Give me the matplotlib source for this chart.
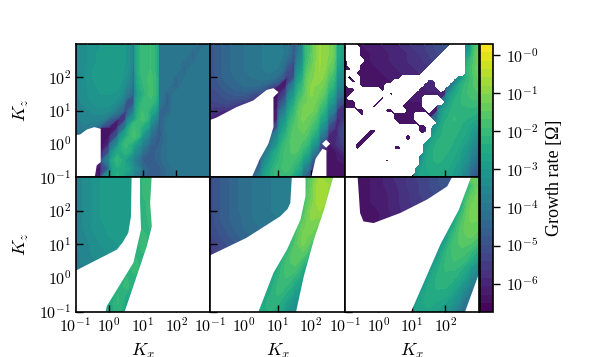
import matplotlib
matplotlib.use('Agg')
import matplotlib.pyplot as plt
from matplotlib.colors import LogNorm
import numpy as np

plt.rcParams['font.family'] = ['Liberation Serif', 'DejaVu Serif']
plt.rcParams['mathtext.fontset'] = 'cm'

# log10(growth rate), 17 columns (log Kx -1..3),
# rows from Kz = 10^3 (top) down to Kz = 10^-1
P1 = [
    [-3.5,-3.3,-3.1,-3.0,-2.9,-2.9,-3.0,-4.6,-2.0,-1.9,-3.9,-3.9,-3.9,-3.9,-3.9,-4.3,-4.1],
    [-3.5,-3.3,-3.1,-2.9,-2.8,-2.8,-3.0,-4.6,-2.0,-1.9,-3.9,-3.9,-3.9,-3.9,-4.5,-4.0,-3.9],
    [-3.5,-3.3,-3.1,-2.9,-2.8,-2.8,-3.0,-4.7,-2.0,-1.9,-3.9,-3.9,-3.9,-4.2,-4.3,-3.9,-3.9],
    [-3.5,-3.3,-3.0,-2.9,-2.8,-2.8,-3.1,-4.8,-2.0,-1.9,-3.9,-3.9,-3.9,-4.6,-3.9,-3.9,-3.9],
    [-3.5,-3.3,-3.0,-2.9,-2.8,-2.8,-3.2,-5.0,-2.1,-1.8,-3.9,-3.9,-4.4,-4.1,-3.9,-3.9,-3.9],
    [-3.5,-3.3,-3.1,-2.9,-2.8,-2.9,-3.4,-5.2,-2.2,-1.8,-3.9,-4.0,-4.6,-3.9,-3.9,-3.9,-3.9],
    [-3.5,-3.3,-3.1,-3.0,-3.0,-3.1,-3.8,-5.4,-2.4,-1.8,-3.9,-4.6,-4.0,-3.9,-3.9,-3.9,-3.9],
    [-3.5,-3.4,-3.2,-3.1,-3.1,-3.4,-5.0,-4.8,-2.1,-2.0,-4.0,-4.8,-3.9,-3.9,-3.9,-3.9,-3.9],
    [-3.6,-3.5,-3.4,-3.3,-3.4,-4.0,-6.0,-3.9,-1.9,-2.5,-4.3,-4.5,-3.9,-3.9,-3.9,-3.9,-3.9],
    [-3.7,-3.6,-3.5,-3.6,-4.6,-6.2,-5.5,-2.9,-1.8,-3.1,-4.7,-4.1,-3.9,-3.9,-3.9,-3.9,-3.9],
    [-3.8,-3.7,-4.0,-6.4,-6.4,-6.2,-4.0,-1.9,-2.4,-3.7,-4.9,-4.0,-3.9,-3.9,-3.9,-3.9,-3.9],
    [-6.0,-6.0,-6.2,-6.5,-6.4,-5.0,-2.6,-1.8,-3.1,-4.2,-4.8,-4.1,-3.9,-3.9,-3.9,-3.9,-3.9],
    [-6.0,-6.0,-6.2,-6.5,-6.0,-3.5,-2.0,-2.7,-3.7,-4.5,-4.6,-4.1,-3.9,-3.9,-3.9,-3.9,-3.9],
    [-6.0,-6.0,-6.2,-6.5,-5.0,-2.6,-2.2,-3.3,-4.2,-4.8,-4.4,-4.1,-3.9,-3.9,-3.9,-3.9,-3.9],
    [-6.0,-6.0,-6.5,-6.0,-3.6,-2.1,-2.9,-3.8,-4.6,-4.8,-4.4,-4.1,-3.9,-3.9,-3.9,-3.9,-3.9],
    [-6.0,-6.0,-6.2,-6.5,-4.6,-2.4,-2.6,-3.4,-4.3,-4.7,-4.7,-4.3,-4.0,-3.9,-3.9,-3.9,-3.9],
    [-6.0,-6.0,-6.2,-6.3,-3.0,-2.3,-3.0,-3.8,-4.5,-4.7,-4.6,-4.3,-4.1,-4.0,-3.9,-3.9,-3.9],
]
P2 = [
    [-4.9,-4.6,-4.4,-4.2,-4.1,-4.0,-3.9,-3.8,-3.8,-4.0,-5.6,-3.6,-1.6,-0.8,-1.0,-2.4,-3.3],
    [-4.9,-4.6,-4.4,-4.2,-4.1,-4.0,-3.9,-3.8,-3.7,-4.0,-5.7,-3.5,-1.6,-0.8,-1.0,-2.4,-3.3],
    [-4.9,-4.6,-4.4,-4.2,-4.1,-4.0,-3.9,-3.8,-3.8,-4.3,-6.0,-3.2,-1.5,-0.8,-1.1,-2.6,-3.5],
    [-4.9,-4.6,-4.4,-4.2,-4.1,-4.0,-3.9,-3.8,-3.9,-4.8,-6.2,-2.8,-1.3,-0.8,-1.3,-2.8,-3.6],
    [-4.9,-4.7,-4.4,-4.3,-4.2,-4.1,-4.0,-4.0,-4.4,-6.2,-4.9,-2.4,-1.1,-0.9,-1.6,-3.1,-3.8],
    [-5.0,-4.8,-4.6,-4.4,-4.3,-4.3,-4.4,-5.0,-6.3,-6.1,-3.7,-2.0,-1.0,-1.1,-1.9,-3.4,-4.2],
    [-5.1,-5.0,-4.8,-4.7,-4.7,-5.0,-5.5,-6.5,-6.4,-5.2,-3.0,-1.7,-1.0,-1.3,-2.3,-3.9,-4.9],
    [-5.3,-5.2,-5.1,-5.3,-5.5,-6.0,-6.5,-6.5,-6.4,-4.4,-2.5,-1.4,-1.1,-1.6,-2.8,-4.6,-5.9],
    [-5.5,-5.8,-6.0,-6.5,-6.5,-6.5,-6.5,-6.5,-6.2,-3.6,-2.1,-1.2,-1.2,-2.0,-3.4,-5.6,-6.3],
    [-6.0,-6.2,-6.4,-6.5,-6.5,-6.5,-6.5,-6.5,-6.0,-3.0,-1.8,-1.2,-1.5,-2.4,-4.2,-6.2,-5.5],
    [-6.4,-6.4,-6.4,-6.5,-6.5,-6.5,-6.5,-6.5,-5.0,-2.6,-1.6,-1.3,-1.8,-3.0,-5.1,-6.3,-5.0],
    [-6.4,-6.4,-6.4,-6.5,-6.5,-6.5,-6.5,-6.4,-3.5,-2.2,-1.5,-1.5,-2.2,-3.8,-6.0,-6.0,-5.0],
    [-6.4,-6.4,-6.4,-6.5,-6.5,-6.5,-6.5,-5.0,-3.0,-1.9,-1.5,-1.8,-2.8,-4.8,-6.4,-5.8,-5.2],
    [-6.4,-6.4,-6.4,-6.5,-6.5,-6.5,-6.4,-3.6,-2.4,-1.8,-1.6,-2.2,-3.6,-5.8,-6.4,-6.3,-5.8],
    [-6.4,-6.4,-6.4,-6.5,-6.5,-6.5,-5.4,-3.0,-2.2,-1.8,-1.9,-2.8,-4.6,-6.4,-6.4,-6.3,-6.2],
    [-6.4,-6.4,-6.4,-6.5,-6.5,-6.4,-4.2,-2.6,-2.0,-1.8,-2.2,-3.6,-5.8,-6.4,-6.4,-6.4,-6.4],
    [-6.4,-6.4,-6.4,-6.5,-6.5,-6.3,-3.5,-2.4,-2.0,-2.0,-2.7,-4.4,-6.4,-6.4,-6.4,-6.4,-6.4],
]
P3 = [
    [-6.4,-6.4,-6.3,-6.2,-6.1,-6.0,-5.9,-5.8,-5.6,-5.5,-5.3,-5.1,-4.9,-4.7,-4.8,-3.0,-1.5],
    [-6.4,-6.4,-6.3,-6.3,-6.2,-6.1,-6.0,-5.9,-5.8,-5.6,-5.4,-5.2,-5.0,-4.9,-4.8,-2.6,-1.3],
    [-6.4,-6.4,-6.4,-6.3,-6.2,-6.1,-6.0,-5.9,-5.8,-5.7,-5.5,-5.3,-5.2,-5.0,-4.8,-2.0,-1.3],
    [-6.4,-6.4,-6.4,-6.4,-6.3,-6.2,-6.1,-6.0,-5.9,-5.8,-5.7,-5.5,-5.4,-5.2,-4.0,-1.8,-1.3],
    [-6.4,-6.4,-6.4,-6.4,-6.3,-6.3,-6.2,-6.1,-6.0,-5.9,-5.8,-5.7,-5.6,-4.4,-3.0,-1.9,-1.4],
    [-6.4,-6.4,-6.4,-6.4,-6.4,-6.3,-6.3,-6.2,-6.2,-6.1,-6.0,-6.0,-6.0,-3.6,-2.2,-1.8,-1.5],
    [-6.4,-6.4,-6.4,-6.4,-6.4,-6.4,-6.3,-6.3,-6.2,-6.2,-6.1,-6.1,-6.0,-2.6,-2.1,-1.8,-1.7],
    [-6.4,-6.4,-6.4,-6.4,-6.4,-6.4,-6.4,-6.3,-6.3,-6.3,-6.2,-6.2,-3.5,-2.3,-2.1,-2.0,-2.0],
    [-6.4,-6.4,-6.4,-6.4,-6.4,-6.4,-6.4,-6.4,-6.3,-6.3,-6.3,-6.2,-2.6,-2.2,-2.2,-2.2,-2.3],
    [-6.4,-6.4,-6.4,-6.4,-6.4,-6.4,-6.4,-6.4,-6.4,-6.3,-6.3,-4.0,-2.4,-2.1,-2.3,-2.4,-2.7],
    [-6.4,-6.4,-6.4,-6.4,-6.4,-6.4,-6.4,-6.4,-6.4,-6.4,-6.4,-2.9,-2.2,-2.2,-2.4,-2.7,-3.1],
    [-6.4,-6.4,-6.4,-6.4,-6.4,-6.4,-6.4,-6.4,-6.4,-6.4,-4.6,-2.5,-2.2,-2.3,-2.5,-2.9,-3.6],
    [-6.4,-6.4,-6.4,-6.4,-6.4,-6.4,-6.4,-6.4,-6.4,-6.3,-2.8,-2.3,-2.2,-2.4,-2.7,-3.2,-4.0],
    [-6.4,-6.4,-6.4,-6.4,-6.4,-6.4,-6.4,-6.4,-6.4,-6.0,-2.5,-2.2,-2.3,-2.5,-2.9,-3.5,-4.5],
    [-6.4,-6.4,-6.4,-6.4,-6.4,-6.4,-6.4,-6.4,-6.4,-3.6,-2.4,-2.3,-2.4,-2.6,-3.0,-3.8,-5.0],
    [-6.4,-6.4,-6.4,-6.4,-6.4,-6.4,-6.4,-6.4,-6.3,-2.8,-2.5,-2.4,-2.5,-2.8,-3.3,-4.2,-5.4],
    [-6.4,-6.4,-6.4,-6.4,-6.4,-6.4,-6.4,-6.4,-6.0,-2.7,-2.6,-2.5,-2.6,-2.9,-3.5,-4.6,-5.8],
]
P4 = [
    [-3.6,-3.4,-3.2,-3.0,-2.9,-2.8,-2.9,-3.0,-2.1,-2.1,-2.5,-3.0,-3.0,-3.0,-3.0,-3.0,-3.0],
    [-3.6,-3.4,-3.2,-3.0,-2.9,-2.8,-2.9,-3.0,-2.1,-2.1,-2.5,-3.0,-3.0,-3.0,-3.0,-3.0,-3.0],
    [-3.6,-3.4,-3.2,-3.0,-2.9,-2.8,-2.9,-3.0,-2.1,-2.1,-2.5,-3.0,-3.0,-3.0,-3.0,-3.0,-3.0],
    [-3.6,-3.4,-3.2,-3.0,-2.9,-2.8,-2.9,-3.0,-2.2,-2.0,-2.5,-3.0,-3.0,-3.0,-3.0,-3.0,-3.0],
    [-3.6,-3.4,-3.2,-3.0,-2.9,-2.8,-2.9,-3.0,-2.2,-2.0,-2.5,-3.0,-3.0,-3.0,-3.0,-3.0,-3.0],
    [-3.6,-3.4,-3.2,-3.0,-2.9,-2.8,-2.9,-3.0,-2.3,-2.0,-2.5,-3.0,-3.0,-3.0,-3.0,-3.0,-3.0],
    [-3.6,-3.4,-3.2,-3.1,-2.9,-2.9,-2.9,-3.0,-2.2,-2.1,-2.6,-3.0,-3.0,-3.0,-3.0,-3.0,-3.0],
    [-3.6,-3.5,-3.3,-3.1,-3.0,-3.0,-3.0,-3.0,-2.0,-2.6,-3.0,-3.0,-3.0,-3.0,-3.0,-3.0,-3.0],
    [-3.6,-3.5,-3.4,-3.2,-3.1,-3.0,-3.0,-2.9,-1.9,-3.0,-3.0,-3.0,-3.0,-3.0,-3.0,-3.0,-3.0],
    [-3.7,-3.6,-3.4,-3.3,-3.2,-3.1,-3.0,-2.3,-2.1,-3.0,-3.0,-3.0,-3.0,-3.0,-3.0,-3.0,-3.0],
    [-3.7,-3.6,-3.5,-3.4,-3.3,-3.1,-3.0,-2.0,-2.6,-3.0,-3.0,-3.0,-3.0,-3.0,-3.0,-3.0,-3.0],
    [-3.8,-3.7,-3.5,-3.4,-3.3,-3.1,-2.7,-1.9,-3.0,-3.0,-3.0,-3.0,-3.0,-3.0,-3.0,-3.0,-3.0],
    [-3.8,-3.7,-3.5,-3.4,-3.3,-3.0,-2.1,-2.3,-3.0,-3.0,-3.0,-3.0,-3.0,-3.0,-3.0,-3.0,-3.0],
    [-3.8,-3.7,-3.5,-3.4,-3.3,-2.5,-2.0,-2.8,-3.0,-3.0,-3.0,-3.0,-3.0,-3.0,-3.0,-3.0,-3.0],
    [-3.8,-3.7,-3.5,-3.4,-3.0,-2.1,-2.4,-3.0,-3.0,-3.0,-3.0,-3.0,-3.0,-3.0,-3.0,-3.0,-3.0],
    [-3.8,-3.7,-3.5,-3.4,-2.6,-2.1,-2.7,-3.0,-3.0,-3.0,-3.0,-3.0,-3.0,-3.0,-3.0,-3.0,-3.0],
    [-3.8,-3.7,-3.5,-3.0,-2.5,-2.2,-2.8,-3.0,-3.0,-3.0,-3.0,-3.0,-3.0,-3.0,-3.0,-3.0,-3.0],
]
P5 = [
    [-5.1,-4.8,-4.6,-4.4,-4.2,-4.1,-4.0,-3.9,-3.8,-3.8,-3.9,-2.5,-1.5,-0.8,-0.9,-2.0,-3.0],
    [-5.1,-4.8,-4.6,-4.4,-4.2,-4.1,-4.0,-3.9,-3.8,-3.8,-3.9,-2.5,-1.4,-0.6,-0.8,-2.0,-3.0],
    [-5.1,-4.8,-4.6,-4.4,-4.2,-4.1,-4.0,-3.9,-3.8,-3.8,-3.9,-2.4,-1.3,-0.6,-0.9,-2.2,-3.0],
    [-5.1,-4.8,-4.6,-4.4,-4.2,-4.1,-4.0,-3.9,-3.8,-3.8,-3.9,-2.2,-1.2,-0.6,-1.1,-2.4,-3.0],
    [-5.1,-4.8,-4.6,-4.4,-4.2,-4.1,-4.0,-3.9,-3.8,-3.8,-3.6,-2.0,-1.0,-0.8,-1.6,-3.0,-3.0],
    [-5.1,-4.8,-4.6,-4.4,-4.3,-4.1,-4.0,-3.9,-3.9,-3.8,-3.0,-1.6,-1.0,-1.1,-2.0,-3.0,-3.0],
    [-5.2,-4.9,-4.7,-4.5,-4.3,-4.2,-4.1,-4.0,-3.9,-3.6,-2.4,-1.3,-1.1,-1.6,-2.6,-3.0,-3.0],
    [-5.3,-5.0,-4.8,-4.6,-4.4,-4.3,-4.2,-4.1,-3.9,-3.4,-1.9,-1.2,-1.3,-2.2,-3.0,-3.0,-3.0],
    [-5.4,-5.2,-5.0,-4.8,-4.6,-4.4,-4.3,-4.1,-3.9,-3.0,-1.7,-1.2,-1.8,-2.8,-3.0,-3.0,-3.0],
    [-5.5,-5.3,-5.1,-4.9,-4.7,-4.5,-4.3,-4.1,-3.5,-2.3,-1.5,-1.5,-2.4,-3.0,-3.0,-3.0,-3.0],
    [-5.5,-5.3,-5.1,-4.9,-4.7,-4.5,-4.3,-4.0,-3.0,-1.9,-1.5,-2.0,-2.9,-3.0,-3.0,-3.0,-3.0],
    [-5.5,-5.3,-5.1,-4.9,-4.7,-4.5,-4.3,-3.4,-2.4,-1.8,-1.8,-2.5,-3.0,-3.0,-3.0,-3.0,-3.0],
    [-5.5,-5.3,-5.1,-4.9,-4.7,-4.5,-4.3,-3.0,-2.2,-1.9,-2.2,-2.9,-3.0,-3.0,-3.0,-3.0,-3.0],
    [-5.5,-5.3,-5.1,-4.9,-4.7,-4.5,-3.3,-2.6,-2.1,-2.1,-2.6,-3.0,-3.0,-3.0,-3.0,-3.0,-3.0],
    [-5.5,-5.3,-5.1,-4.9,-4.7,-4.5,-3.0,-2.4,-2.1,-2.4,-2.9,-3.0,-3.0,-3.0,-3.0,-3.0,-3.0],
    [-5.5,-5.3,-5.1,-4.9,-4.7,-3.2,-2.7,-2.2,-2.3,-2.8,-3.2,-3.2,-3.2,-3.2,-3.2,-3.2,-3.2],
    [-5.5,-5.3,-5.1,-4.9,-4.7,-3.0,-2.5,-2.3,-2.5,-3.0,-3.4,-3.4,-3.4,-3.4,-3.4,-3.4,-3.4],
]
P6 = [
    [-6.4,-6.4,-6.4,-6.3,-6.2,-6.0,-5.8,-5.7,-5.5,-5.3,-5.2,-5.0,-4.8,-4.7,-2.8,-1.4,-1.2],
    [-6.4,-6.4,-6.4,-6.3,-6.2,-6.0,-5.9,-5.7,-5.5,-5.4,-5.2,-5.0,-4.9,-4.8,-2.8,-2.0,-1.2],
    [-6.4,-6.4,-6.4,-6.3,-6.2,-6.1,-5.9,-5.8,-5.6,-5.4,-5.3,-5.1,-5.0,-4.8,-2.8,-1.6,-1.1],
    [-6.4,-6.4,-6.4,-6.3,-6.2,-6.1,-5.9,-5.8,-5.6,-5.5,-5.3,-5.2,-5.0,-4.8,-3.0,-1.3,-1.1],
    [-6.4,-6.4,-6.4,-6.4,-6.3,-6.1,-6.0,-5.8,-5.7,-5.5,-5.4,-5.2,-5.0,-4.0,-2.1,-1.2,-1.1],
    [-6.4,-6.4,-6.4,-6.4,-6.3,-6.2,-6.0,-5.9,-5.7,-5.6,-5.4,-5.2,-5.0,-3.4,-1.7,-1.2,-1.2],
    [-6.4,-6.4,-6.4,-6.4,-6.3,-6.2,-6.0,-5.9,-5.7,-5.6,-5.4,-5.2,-4.5,-2.4,-1.5,-1.3,-1.4],
    [-6.4,-6.4,-6.4,-6.4,-6.3,-6.2,-6.0,-5.9,-5.7,-5.6,-5.4,-5.0,-3.3,-2.0,-1.5,-1.4,-1.7],
    [-6.4,-6.4,-6.4,-6.4,-6.3,-6.2,-6.0,-5.9,-5.7,-5.6,-5.0,-4.0,-2.6,-1.8,-1.6,-1.7,-2.1],
    [-6.4,-6.4,-6.4,-6.4,-6.3,-6.2,-6.0,-5.9,-5.7,-5.6,-4.5,-3.4,-2.2,-1.8,-1.8,-2.1,-2.6],
    [-6.4,-6.4,-6.4,-6.4,-6.3,-6.2,-6.0,-5.9,-5.7,-5.0,-4.0,-2.7,-2.1,-1.9,-2.0,-2.5,-3.1],
    [-6.4,-6.4,-6.4,-6.4,-6.3,-6.2,-6.0,-5.9,-5.7,-4.6,-3.4,-2.4,-2.1,-2.1,-2.4,-3.0,-3.7],
    [-6.4,-6.4,-6.4,-6.4,-6.3,-6.2,-6.0,-5.9,-5.0,-4.0,-2.7,-2.3,-2.2,-2.3,-2.7,-3.4,-4.0],
    [-6.4,-6.4,-6.4,-6.4,-6.3,-6.2,-6.0,-5.9,-4.6,-3.4,-2.5,-2.3,-2.3,-2.6,-3.1,-3.8,-4.2],
    [-6.4,-6.4,-6.4,-6.4,-6.3,-6.2,-6.0,-5.4,-4.0,-2.8,-2.4,-2.4,-2.5,-2.9,-3.5,-4.3,-4.3],
    [-6.4,-6.4,-6.4,-6.4,-6.3,-6.2,-6.0,-5.0,-3.4,-2.6,-2.5,-2.6,-2.8,-3.2,-3.9,-4.3,-4.3],
    [-6.4,-6.4,-6.4,-6.4,-6.3,-6.2,-6.0,-4.5,-2.9,-2.6,-2.6,-2.8,-3.1,-3.6,-4.3,-4.3,-4.3],
]

# empty (no growth) regions, as log10 Kx / log10 Kz outlines
NAN_P1 = [[(-1.1,.25),(-.86,.28),(-.66,.43),(-.44,.5),(-.25,.45),(-.25,-.55),(-.37,-.65),(-.44,-1.1),(-1.1,-1.1)]]
NAN_P2 = [[(-1.1,.68),(-.82,.78),(-.22,1.1),(.28,1.3),(.68,1.62),(.88,1.67),(1.03,1.55),(.88,1.4),(.88,.5),(.73,0),(.48,-.45),(.2,-1.1),(-1.1,-1.1)],
          [(1.98,-1.1),(2.13,-.45),(2.33,-.15),(2.45,-.2),(2.45,-1.1)],
          [(2.32,0),(2.44,.12),(2.56,0),(2.44,-.12)]]
NAN_P4 = [[(-1.1,.16),(.23,.84),(.4,1.05),(.57,1.34),(.65,1.83),(.67,3.1),(.92,3.1),(.92,2.23),(.95,1.44),(.72,.45),(-.07,-.84),(-.12,-1.1),(-1.1,-1.1)],
          [(1.27,3.1),(1.22,2.23),(1.27,1.53),(1.12,.94),(.82,.05),(.43,-1.1),(3.1,-1.1),(3.1,3.1)]]
NAN_P5 = [[(-1.1,.62),(.08,1.19),(1.08,1.83),(1.3,2.05),(1.38,2.23),(1.43,3.1),(1.83,3.1),(1.83,2.43),(1.68,1.73),(1.28,.84),(.88,.15),(.4,-1.1),(-1.1,-1.1)],
          [(2.68,3.1),(2.38,2.03),(2.08,1.14),(1.78,.05),(1.53,-1.1),(3.1,-1.1),(3.1,3.1)]]
NAN_P6 = [[(-1.1,3.1),(-.63,3.1),(-.55,1.93),(-.45,1.68),(-.15,1.63),(.65,1.93),(1.45,2.33),(2.05,2.72),(2.25,3.1),(2.8,3.1),(2.4,2.03),(1.85,1),(.93,-1.1),(-1.1,-1.1)],
          [(2.55,-1.1),(3.1,.4),(3.1,-1.1)]]

# third panel is patchy: run lengths per row, white run first, then coloured, ...
P3_RUNS = [
    [3,23,3,4],[0,1,3,21,4,4],[4,20,5,4],[4,19,6,4],[0,1,4,17,7,4],[0,1,3,17,8,4],[0,2,2,16,9,4],
    [3,16,10,4],[1,1,2,10,13,6],[2,1,1,8,8,2,4,7],[0,1,3,6,9,3,3,8],[0,3,6,1,8,5,1,9],[0,2,9,1,5,16],
    [0,1,8,1,6,3,4,10],[0,3,5,1,6,4,5,9],[0,3,4,1,6,5,3,11],[3,2,5,2,3,5,1,12],[4,1,7,5,3,13],
    [12,5,4,12],[13,5,4,11],[18,2,1,12],[6,2,10,2,1,12],[5,2,8,1,5,12],[4,2,9,1,4,13],[3,2,14,14],
    [3,1,8,2,5,14],[19,14],[18,15],[10,1,7,15],[18,15],[17,16],[17,16],[16,17],
]

TICKS = [0.1, 1, 10, 100]
TICK_LABELS = [r'$10^{-1}$', r'$10^{0}$', r'$10^{1}$', r'$10^{2}$']
CB_TICKS = [1e0, 1e-1, 1e-2, 1e-3, 1e-4, 1e-5, 1e-6]
CB_LABELS = [r'$10^{-0}$', r'$10^{-1}$', r'$10^{-2}$', r'$10^{-3}$', r'$10^{-4}$', r'$10^{-5}$', r'$10^{-6}$']

W, H = 598., 357.


def px_axes(fig, x0, y0, x1, y1):
    return fig.add_axes([x0 / W, 1 - y1 / H, (x1 - x0) / W, (y1 - y0) / H])


def main():
    fig = plt.figure(figsize=(W / 100, H / 100), dpi=100)
    levels = np.logspace(-6.73, 0.29, 33)
    norm = LogNorm(10 ** -6.73, 10 ** 0.29)

    xs = [75.5, 210, 345, 479]
    ys = [44, 177, 311.5]
    data = [P1, P2, P3, P4, P5, P6]
    nans = [NAN_P1, NAN_P2, [], NAN_P4, NAN_P5, NAN_P6]

    cs = None
    for n in range(6):
        col = n % 3
        row = n // 3
        ax = px_axes(fig, xs[col], ys[row], xs[col + 1], ys[row + 1])

        # the data stops just short of the frame in the top row
        top = 2.97 if row == 0 else 3
        kx = np.logspace(-1, 2.97 if n == 0 else 3, 17)
        kz = np.logspace(-1, top, 17)
        z = 10 ** np.array(data[n])[::-1]
        cs = ax.contourf(kx, kz, z, levels=levels, norm=norm, cmap='viridis', extend='neither')

        for poly in nans[n]:
            poly = np.array(poly)
            ax.fill(10 ** poly[:, 0], 10 ** poly[:, 1], color='white', lw=0, zorder=3)

        if n == 2:
            mask = []
            for runs in P3_RUNS:
                flags = np.arange(len(runs)) % 2 == 0
                mask.append(np.repeat(flags, runs).astype(float))
            mask = np.array(mask)[::-1]
            ax.contourf(np.logspace(-1, 3, 33), np.logspace(-1, 3, 33), mask,
                        levels=[0.5, 1.5], colors='white', zorder=3)

        ax.set_xscale('log')
        ax.set_yscale('log')
        ax.set_xlim(0.1, 1000)
        ax.set_ylim(0.1, 1000)
        ax.set_xticks(TICKS)
        ax.set_yticks(TICKS)
        ax.minorticks_off()
        ax.tick_params(which='major', direction='in', length=5, width=1, labelsize=11.5, zorder=5)
        ax.tick_params(axis='x', pad=4)
        ax.tick_params(axis='y', pad=3)
        if row == 1:
            ax.set_xticklabels(TICK_LABELS)
            ax.set_xlabel(r'$K_x$', fontsize=13, labelpad=4.5)
        else:
            ax.set_xticklabels([])
        if col == 0:
            ax.set_yticklabels(TICK_LABELS)
            ax.set_ylabel(r'$K_z$', fontsize=13, labelpad=6)
        else:
            ax.set_yticklabels([])
        for s in ax.spines.values():
            s.set_linewidth(1.2)
            s.set_zorder(6)

    cax = px_axes(fig, 479.5, 44, 493, 311.5)
    cb = fig.colorbar(cs, cax=cax)
    cb.set_ticks(CB_TICKS)
    cb.set_ticklabels(CB_LABELS)
    cb.ax.minorticks_off()
    cb.ax.tick_params(length=5, width=1, labelsize=11.5, pad=4)
    cb.outline.set_linewidth(1.2)
    cb.set_label('Growth rate [Ω]', fontsize=13, labelpad=6)

    plt.savefig('out.png', dpi=100)


if __name__ == "__main__":
    main()
